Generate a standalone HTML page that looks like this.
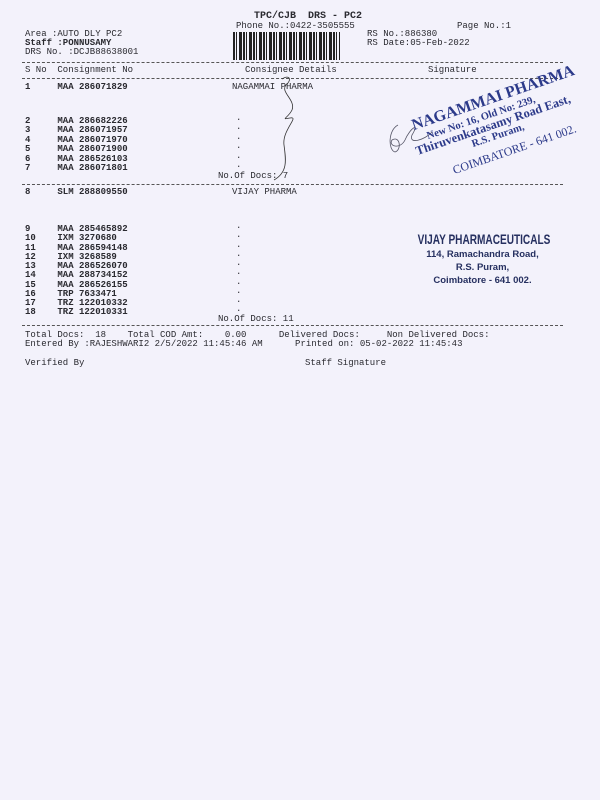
<!DOCTYPE html>
<html><head><style>
body{margin:0;width:600px;height:800px;background:#f3f2fb;position:relative;overflow:hidden;font-family:"Liberation Mono",monospace;font-size:9px;color:#2a2a30}
.t{position:absolute;white-space:pre;line-height:9px}
.b{font-weight:bold}
.d{position:absolute;left:22px;width:541px;border-top:1px dashed #555}
.st{position:absolute;color:#2c3a8a;font-family:"Liberation Serif",serif;font-weight:bold;white-space:pre;transform:rotate(-19deg);transform-origin:0 100%}
.vj{position:absolute;color:#263060;font-family:"Liberation Sans",sans-serif;font-weight:bold;white-space:pre;text-align:center}
</style></head><body>
<div class="t b" style="left:254px;top:12px;font-size:10px">TPC/CJB  DRS - PC2</div>
<div class="t" style="left:236px;top:22px">Phone No.:0422-3505555</div>
<div class="t" style="left:457px;top:22px">Page No.:1</div>
<div class="t" style="left:25px;top:30px">Area :AUTO DLY PC2</div>
<div class="t b" style="left:25px;top:39px">Staff :PONNUSAMY</div>
<div class="t" style="left:25px;top:48px">DRS No. :DCJB88638001</div>
<div class="t" style="left:367px;top:30px">RS No.:886380</div>
<div class="t" style="left:367px;top:39px">RS Date:05-Feb-2022</div>
<div style="position:absolute;left:233px;top:32px;width:107px;height:28px;background:repeating-linear-gradient(90deg,#222 0 2px,#f3f2fb 2px 3px,#222 3px 4px,#f3f2fb 4px 6px,#222 6px 9px,#f3f2fb 9px 10px)"></div>
<div class="d" style="top:62px"></div>
<div class="t" style="left:25px;top:66px">S No  Consignment No</div>
<div class="t" style="left:245px;top:66px">Consignee Details</div>
<div class="t" style="left:428px;top:66px">Signature</div>
<div class="d" style="top:78px"></div>
<div class="t" style="left:25px;top:83px"><b>1     MAA 286071829</b></div>
<div class="t" style="left:232px;top:83px">NAGAMMAI PHARMA</div>
<div class="t b" style="left:25px;top:117px;line-height:9.4px">2     MAA 286682226
3     MAA 286071957
4     MAA 286071970
5     MAA 286071900
6     MAA 286526103
7     MAA 286071801</div>
<div class="t" style="left:236px;top:114px;line-height:9.4px">.
.
.
.
.
.</div>
<div class="t" style="left:218px;top:172px">No.Of Docs: 7</div>
<div class="d" style="top:184px"></div>
<div class="t" style="left:25px;top:188px"><b>8     SLM 288809550</b></div>
<div class="t" style="left:232px;top:188px">VIJAY PHARMA</div>
<div class="t b" style="left:25px;top:225px;line-height:9.25px">9     MAA 285465892
10    IXM 3270680
11    MAA 286594148
12    IXM 3268589
13    MAA 286526070
14    MAA 288734152
15    MAA 286526155
16    TRP 7633471
17    TRZ 122010332
18    TRZ 122010331</div>
<div class="t" style="left:236px;top:222px;line-height:9.25px">.
.
.
.
.
.
.
.
.
.</div>
<div class="t" style="left:218px;top:315px">No.Of Docs: 11</div>
<div class="d" style="top:325px"></div>
<div class="t" style="left:25px;top:331px">Total Docs:  18    Total COD Amt:    0.00      Delivered Docs:     Non Delivered Docs:</div>
<div class="t" style="left:25px;top:340px">Entered By :RAJESHWARI2 2/5/2022 11:45:46 AM      Printed on: 05-02-2022 11:45:43</div>
<div class="t" style="left:25px;top:359px">Verified By</div>
<div class="t" style="left:305px;top:359px">Staff Signature</div>
<svg style="position:absolute;left:0;top:0" width="600" height="800">
<path d="M282 79 C290 74,292 80,286 85 C280 92,296 100,292 110 C288 118,280 120,290 118 C300 116,282 130,284 145 C286 160,288 172,274 180" fill="none" stroke="#333" stroke-width="0.8"/>
<path d="M398 125 C388 130,388 150,395 152 C402 150,400 135,392 140 C388 146,400 150,405 140 C410 128,420 122,412 135 C408 145,425 140,432 132" fill="none" stroke="#556" stroke-width="0.8"/>
</svg>
<div class="st" style="left:415px;top:118px;font-size:16px;line-height:16px">NAGAMMAI PHARMA</div>
<div class="st" style="left:429px;top:131px;font-size:10.5px;line-height:11px">New No: 16, Old No: 239,</div>
<div class="st" style="left:418px;top:145px;font-size:12.5px;line-height:12px">Thiruvenkatasamy Road East,</div>
<div class="st" style="left:474px;top:139px;font-size:10.5px;line-height:11px">R.S. Puram,</div>
<div class="st" style="left:455px;top:164px;font-size:12px;line-height:12px;font-weight:normal">COIMBATORE - 641 002.</div>
<div class="vj" style="left:384px;top:232px;width:200px;font-size:14px;line-height:14px;transform:scaleX(0.72)">VIJAY PHARMACEUTICALS</div>
<div class="vj" style="left:410px;top:248px;width:145px;font-size:9.5px;line-height:13px">114, Ramachandra Road,
R.S. Puram,
Coimbatore - 641 002.</div>
</body></html>
